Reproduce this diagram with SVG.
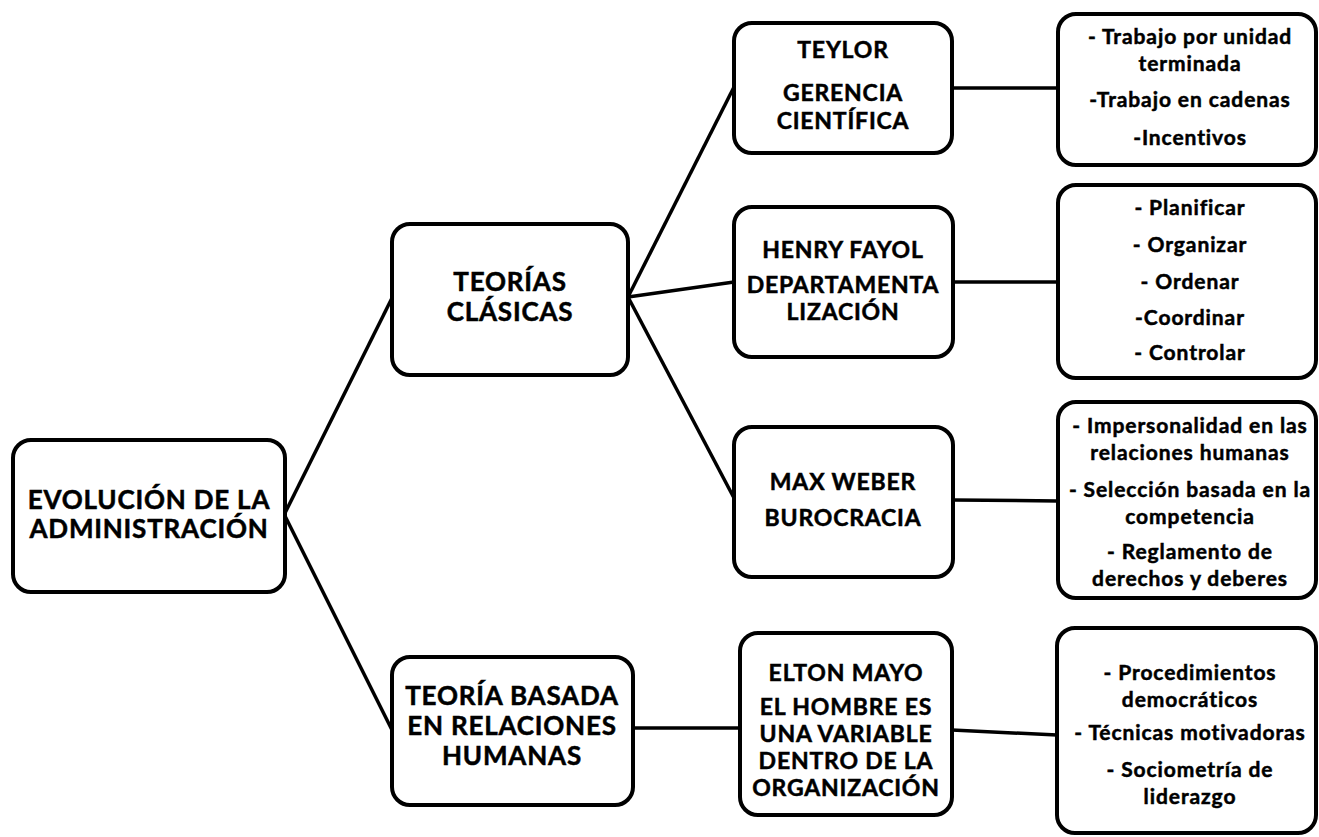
<svg xmlns="http://www.w3.org/2000/svg" width="1319" height="837" viewBox="0 0 1319 837">
<style>
.box{fill:#fff;stroke:#000;stroke-width:4}
text{font-family:Lato,"Open Sans",sans-serif;font-weight:bold;text-anchor:middle;fill:#000;stroke:#000;stroke-width:0.5}
.t1{font-size:26px;letter-spacing:0.8px}
.t2{font-size:23px;letter-spacing:0.8px}
.t3{font-size:21px;letter-spacing:0.9px}
.c{stroke:#000;stroke-width:3.5;fill:none}
</style>
<rect width="1319" height="837" fill="#fff"/>
<g id="connectors">
<line class="c" x1="285" y1="513" x2="392" y2="298"/>
<line class="c" x1="285" y1="516" x2="392" y2="730"/>
<line class="c" x1="628" y1="297" x2="734" y2="87"/>
<line class="c" x1="628" y1="297" x2="734" y2="282"/>
<line class="c" x1="628" y1="297" x2="734" y2="498"/>
<line class="c" x1="952" y1="88" x2="1058" y2="88"/>
<line class="c" x1="953" y1="282" x2="1058" y2="282"/>
<line class="c" x1="953" y1="500" x2="1058" y2="501"/>
<line class="c" x1="633" y1="728" x2="740" y2="728"/>
<line class="c" x1="952" y1="730" x2="1057" y2="735"/>
</g>
<g id="evolucion">
<rect class="box" x="13" y="440" width="272" height="152" rx="18"/>
<text class="t1" x="149" y="509">EVOLUCIÓN DE LA</text>
<text class="t1" x="149" y="538">ADMINISTRACIÓN</text>
</g>
<g id="teorias-clasicas">
<rect class="box" x="392" y="224" width="236" height="151" rx="18"/>
<text class="t1" x="510" y="291">TEORÍAS</text>
<text class="t1" x="510" y="321">CLÁSICAS</text>
</g>
<g id="teoria-relaciones">
<rect class="box" x="392" y="657" width="241" height="148" rx="18"/>
<text class="t1" x="512" y="705">TEORÍA BASADA</text>
<text class="t1" x="512" y="735">EN RELACIONES</text>
<text class="t1" x="512" y="765">HUMANAS</text>
</g>
<g id="teylor">
<rect class="box" x="734" y="23" width="218" height="130" rx="18"/>
<text class="t2" x="843" y="58">TEYLOR</text>
<text class="t2" x="843" y="101">GERENCIA</text>
<text class="t2" x="843" y="129">CIENTÍFICA</text>
</g>
<g id="fayol">
<rect class="box" x="734" y="207" width="219" height="150" rx="18"/>
<text class="t2" x="843" y="258">HENRY FAYOL</text>
<text class="t2" x="843" y="293">DEPARTAMENTA</text>
<text class="t2" x="843" y="320">LIZACIÓN</text>
</g>
<g id="weber">
<rect class="box" x="734" y="427" width="219" height="150" rx="18"/>
<text class="t2" x="843" y="490">MAX WEBER</text>
<text class="t2" x="843" y="526">BUROCRACIA</text>
</g>
<g id="mayo">
<rect class="box" x="740" y="633" width="212" height="182" rx="18"/>
<text class="t2" x="846" y="681">ELTON MAYO</text>
<text class="t2" x="846" y="715">EL HOMBRE  ES</text>
<text class="t2" x="846" y="742">UNA VARIABLE</text>
<text class="t2" x="846" y="769">DENTRO DE LA</text>
<text class="t2" x="846" y="796">ORGANIZACIÓN</text>
</g>
<g id="taylor-items">
<rect class="box" x="1058" y="14" width="258" height="151" rx="18"/>
<text class="t3" x="1190" y="44">- Trabajo por unidad</text>
<text class="t3" x="1190" y="71">terminada</text>
<text class="t3" x="1190" y="107">-Trabajo en cadenas</text>
<text class="t3" x="1190" y="145">-Incentivos</text>
</g>
<g id="fayol-items">
<rect class="box" x="1058" y="185" width="258" height="193" rx="18"/>
<text class="t3" x="1190" y="215">- Planificar</text>
<text class="t3" x="1190" y="252">- Organizar</text>
<text class="t3" x="1190" y="289">- Ordenar</text>
<text class="t3" x="1190" y="325">-Coordinar</text>
<text class="t3" x="1190" y="360">- Controlar</text>
</g>
<g id="weber-items">
<rect class="box" x="1058" y="402" width="258" height="196" rx="18"/>
<text class="t3" x="1190" y="433">- Impersonalidad  en las</text>
<text class="t3" x="1190" y="460">relaciones humanas</text>
<text class="t3" x="1190" y="497">- Selección basada en la</text>
<text class="t3" x="1190" y="524">competencia</text>
<text class="t3" x="1190" y="559">- Reglamento  de</text>
<text class="t3" x="1190" y="586">derechos y deberes</text>
</g>
<g id="mayo-items">
<rect class="box" x="1057" y="628" width="259" height="205" rx="18"/>
<text class="t3" x="1190" y="680">- Procedimientos</text>
<text class="t3" x="1190" y="707">democráticos</text>
<text class="t3" x="1190" y="740">- Técnicas motivadoras</text>
<text class="t3" x="1190" y="777">- Sociometría  de</text>
<text class="t3" x="1190" y="804">liderazgo</text>
</g>
</svg>
